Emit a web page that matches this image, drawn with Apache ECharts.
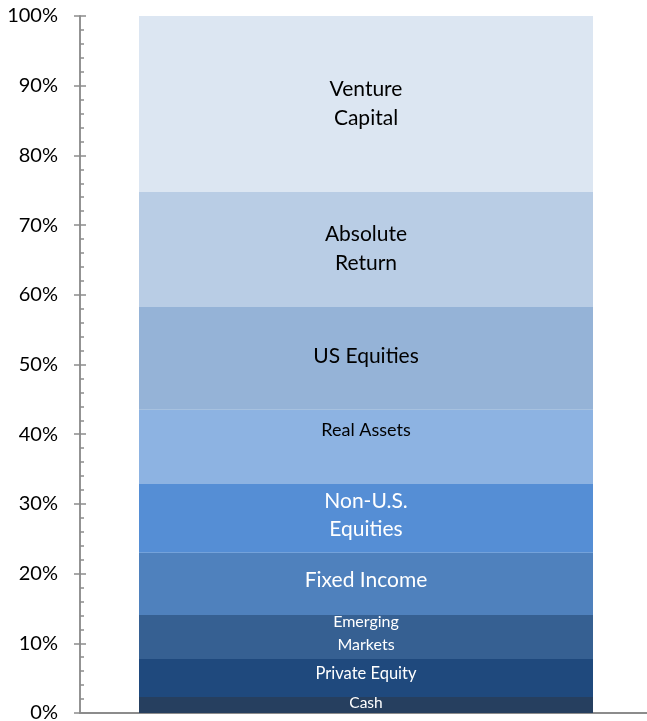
<!DOCTYPE html>
<html>
<head>
<meta charset="utf-8">
<script src="https://cdn.jsdelivr.net/npm/echarts@6/dist/echarts.min.js"></script>
<style>
  html, body { margin: 0; padding: 0; background: #fff; }
  #chart { width: 647px; height: 721px; }
</style>
</head>
<body>
<div id="chart"></div>
<script>
// bottom to top
const names = ['Cash', 'Private Equity', 'Emerging Markets', 'Fixed Income', 'Non-U.S. Equities',
  'Real Assets', 'US Equities', 'Absolute Return', 'Venture Capital']
const labels = ['Cash', 'Private Equity', 'Emerging\nMarkets', 'Fixed Income', 'Non-U.S.\nEquities',
  'Real Assets', 'US Equities', 'Absolute\nReturn', 'Venture\nCapital']
const values = [2.3, 5.45, 6.3, 8.95, 9.85, 10.65, 14.75, 16.5, 25.25]
const yTicks = [0, 10, 20, 30, 40, 50, 60, 70, 80, 90, 100]

const colors = ['#263f5f', '#1f497d', '#366092', '#4f81bd', '#558ed5', '#8db3e2', '#95b3d7', '#b9cde5', '#dce6f2']
const textColors = ['#fff', '#fff', '#fff', '#fff', '#fff', '#000', '#000', '#000', '#000']
const fontSizes = [15.5, 16.5, 16, 21, 21, 18, 21, 21, 21]
const lineHeights = [18, 20, 23, 24, 28, 22, 24, 29, 29]
const offsets = [-2, -4, -4, -4, -3, -17, -2, -1, 0]

const FONT = 'Lato, "Open Sans", sans-serif'
const chart = echarts.init(document.getElementById('chart'))

const series = names.map((name, i) => ({
  name,
  type: 'bar',
  stack: 'total',
  barWidth: 454,
  data: [values[i]],
  itemStyle: { color: colors[i], borderWidth: 0 },
  label: {
    show: true,
    position: 'inside',
    offset: [0, offsets[i]],
    formatter: () => labels[i],
    color: textColors[i],
    fontFamily: FONT,
    fontSize: fontSizes[i],
    lineHeight: lineHeights[i],
    align: 'center',
  },
}))

const yBase = {
  type: 'value',
  min: yTicks[0],
  max: yTicks[yTicks.length - 1],
  interval: 10,
  position: 'left',
  splitLine: { show: false },
  axisLine: { show: true, lineStyle: { color: '#8c8c8c', width: 1.5 } },
}

chart.setOption({
  animation: false,
  grid: { left: 80, right: -5, top: 16, bottom: 8, containLabel: false, outerBoundsMode: 'none' },
  xAxis: {
    type: 'category',
    data: [''],
    axisLine: { show: true, onZero: false, lineStyle: { color: '#8c8c8c', width: 2 } },
    axisTick: { show: false },
    axisLabel: { show: false },
  },
  yAxis: [
    {
      ...yBase,
      axisTick: { show: true, inside: false, length: 6, lineStyle: { color: '#8c8c8c', width: 1.5 } },
      axisLabel: {
        margin: 22,
        color: '#000',
        fontFamily: FONT,
        fontSize: 20,
        formatter: (v) => v + '%',
      },
    },
    {
      ...yBase,
      axisTick: { show: true, inside: true, length: 6, lineStyle: { color: '#8c8c8c', width: 1.5 } },
      minorTick: { show: true, splitNumber: 5, length: 4, lineStyle: { color: '#8c8c8c', width: 1.5 } },
      axisLabel: { show: false },
    },
  ],
  series,
})
</script>
</body>
</html>
